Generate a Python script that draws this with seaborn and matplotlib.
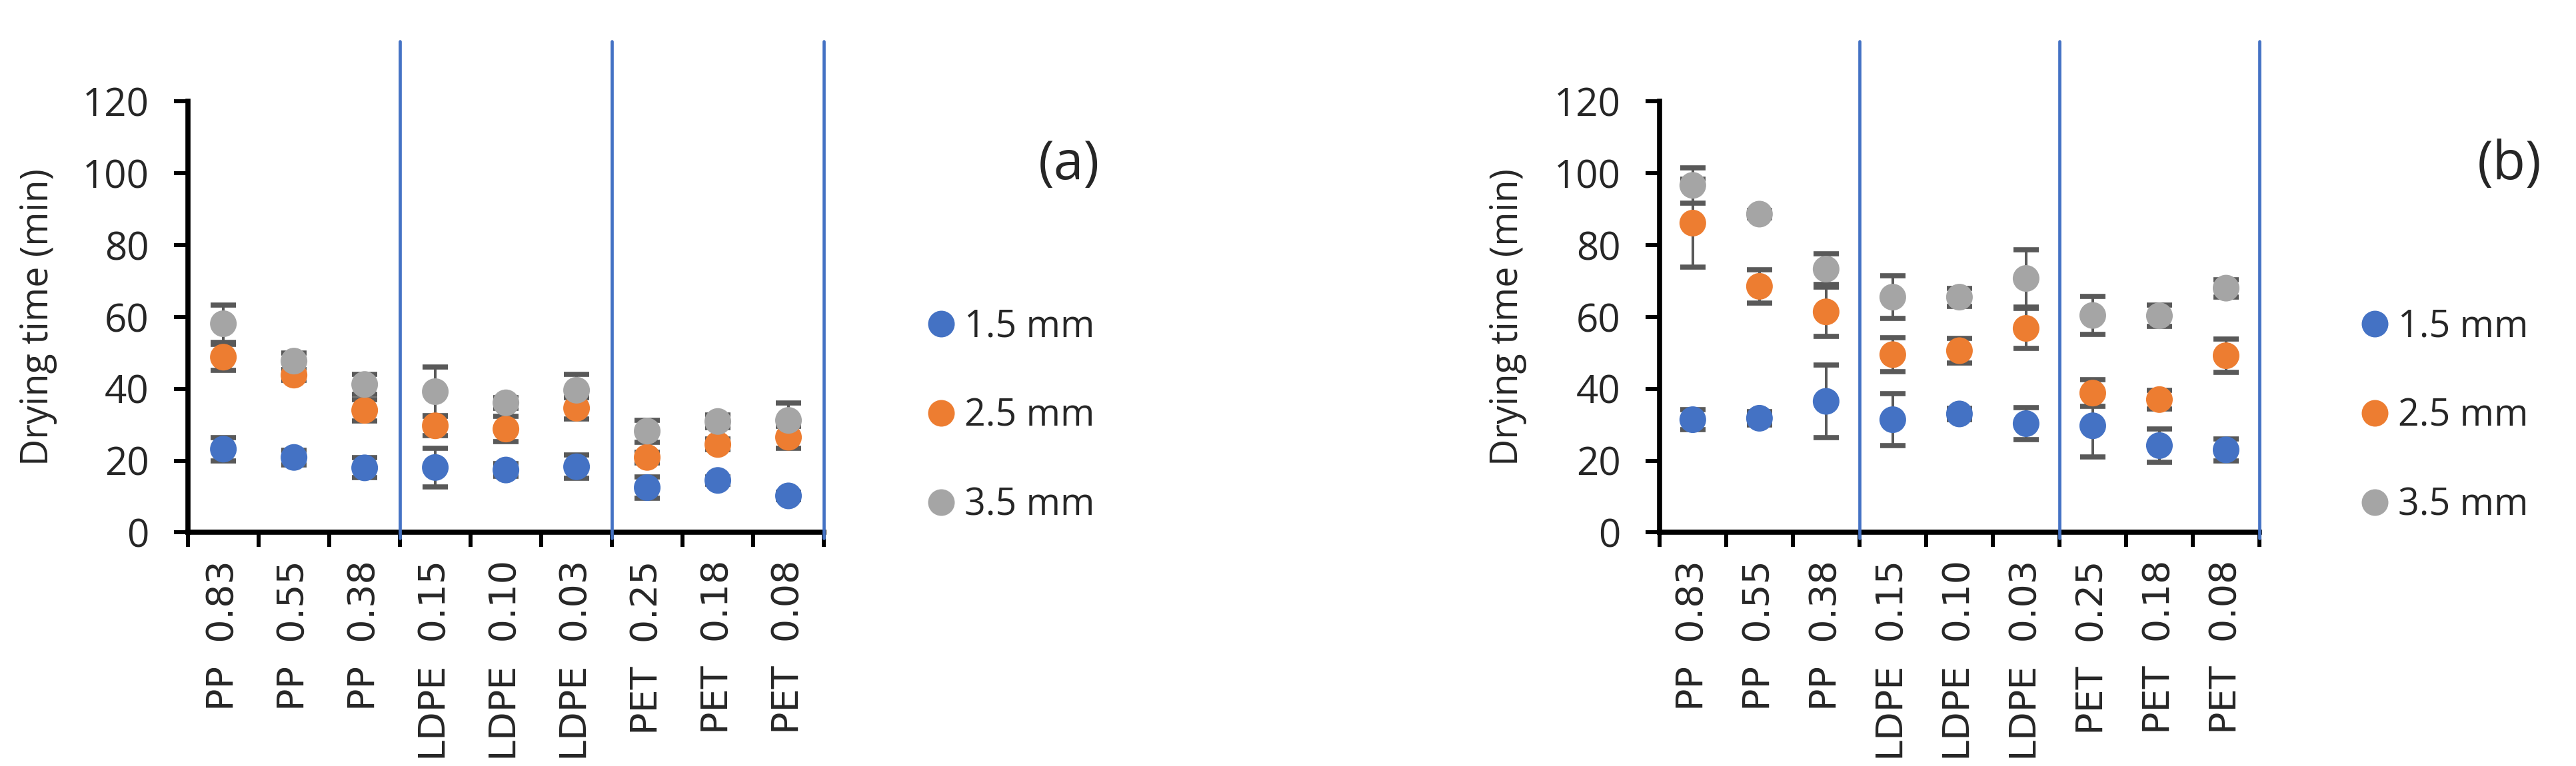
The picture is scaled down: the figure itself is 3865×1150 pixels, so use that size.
import matplotlib
matplotlib.use("Agg")
import matplotlib.pyplot as plt
from matplotlib.lines import Line2D
import numpy as np
import pandas as pd
import seaborn as sns

# categorias do eixo x (material e espessura do filme)
rotulos = ["PP  0.83", "PP  0.55", "PP  0.38",
           "LDPE  0.15", "LDPE  0.10", "LDPE  0.03",
           "PET  0.25", "PET  0.18", "PET  0.08"]
espessuras = ["1.5 mm", "2.5 mm", "3.5 mm"]
cores = ["#4472C4", "#ED7D31", "#A5A5A5"]
separadores = [3, 6, 9]

# painel (a)
a_15 = [23.2, 20.9, 18.0, 18.1, 17.4, 18.3, 12.5, 14.5, 10.2]
a_15_erro = [3.3, 2.0, 2.8, 5.4, 1.8, 3.2, 2.9, 1.0, 1.0]
a_25 = [48.8, 43.8, 34.0, 29.7, 28.8, 34.6, 20.9, 24.5, 26.5]
a_25_erro = [3.6, 1.5, 3.0, 2.8, 3.5, 3.0, 1.5, 1.5, 3.0]
a_35 = [58.1, 47.7, 41.2, 39.2, 36.1, 39.6, 28.2, 30.9, 31.2]
a_35_erro = [5.2, 2.3, 2.8, 6.9, 1.5, 4.4, 3.0, 1.8, 4.9]

# painel (b)
b_15 = [31.4, 31.8, 36.5, 31.4, 33.0, 30.3, 29.7, 24.2, 23.0]
b_15_erro = [2.8, 1.8, 10.1, 7.2, 1.5, 4.4, 8.6, 4.7, 3.0]
b_25 = [86.1, 68.5, 61.4, 49.5, 50.6, 56.8, 38.8, 37.0, 49.2]
b_25_erro = [12.2, 4.7, 6.9, 4.7, 3.4, 5.5, 3.7, 2.6, 4.6]
b_35 = [96.6, 88.6, 73.3, 65.5, 65.5, 70.7, 60.4, 60.3, 68.0]
b_35_erro = [4.9, 1.0, 4.2, 6.0, 2.5, 8.0, 5.3, 3.0, 2.4]

sns.set_style("ticks")
plt.rcParams["font.family"] = ["Open Sans", "DejaVu Sans"]


def montar_tabela(series, erros):
    linhas = []
    for espessura, valores, desvios in zip(espessuras, series, erros):
        for i, (v, e) in enumerate(zip(valores, desvios)):
            linhas.append({"posicao": i + 0.5, "tempo": v, "erro": e, "espessura": espessura})
    return pd.DataFrame(linhas)


def plotar_painel(ax, dados, letra, x_letra, x_legenda):
    for espessura in espessuras:
        parte = dados[dados["espessura"] == espessura]
        ax.errorbar(parte["posicao"], parte["tempo"], yerr=parte["erro"], fmt="none",
                    ecolor="#595959", elinewidth=2.9, capsize=13.5, capthick=5.5, zorder=2)
    sns.scatterplot(data=dados, x="posicao", y="tempo", hue="espessura",
                    palette=cores, s=830, linewidth=0, zorder=3, legend=False, ax=ax)

    for xs in separadores:
        ax.plot([xs, xs], [-1.5, 136.7], color="#4472C4", lw=3.4, clip_on=False, zorder=4)

    ax.set_xlim(0, 9)
    ax.set_ylim(0, 120)
    ax.set_yticks(np.arange(0, 121, 20))
    ax.set_xticks(np.arange(0, 10))
    ax.set_xticklabels([])
    ax.set_xticks(np.arange(9) + 0.5, labels=rotulos, minor=True)
    ax.tick_params(axis="x", which="major", length=16, width=4.3, color="black")
    ax.tick_params(axis="x", which="minor", length=0, pad=30, labelsize=40, labelrotation=90)
    ax.tick_params(axis="y", length=15, width=4.3, color="black", pad=27, labelsize=42)
    for lbl in ax.get_xticklabels(minor=True):
        lbl.set_fontfamily("DejaVu Sans")

    for lado in ["top", "right"]:
        ax.spines[lado].set_visible(False)
    for lado in ["left", "bottom"]:
        ax.spines[lado].set_linewidth(5.5)
        ax.spines[lado].set_color("black")

    ax.set_xlabel("")
    ax.set_ylabel("Drying time (min)", fontsize=40, va="center")
    ax.yaxis.set_label_coords(-0.235, 0.5)

    marcadores = [Line2D([], [], marker="o", linestyle="none", markersize=28.8,
                         markerfacecolor=c, markeredgewidth=0) for c in cores]
    ax.legend(marcadores, espessuras, loc="center left", bbox_to_anchor=(x_legenda, 0.4565),
              bbox_transform=ax.figure.transFigure, frameon=False, fontsize=40,
              borderpad=0, handlelength=0.7, handletextpad=0.28, labelspacing=1.38)

    ax.figure.text(x_letra, 0.7843, letra, ha="center", va="center", fontsize=58)


fig = plt.figure(figsize=(38.65, 11.5), dpi=100)
ax_a = fig.add_axes([0.0730, 0.3048, 0.2468, 0.5630])
ax_b = fig.add_axes([0.6442, 0.3048, 0.2329, 0.5630])

plotar_painel(ax_a, montar_tabela([a_15, a_25, a_35], [a_15_erro, a_25_erro, a_35_erro]),
              "(a)", 0.4150, 0.3530)
plotar_painel(ax_b, montar_tabela([b_15, b_25, b_35], [b_15_erro, b_25_erro, b_35_erro]),
              "(b)", 0.9741, 0.9096)
ax_b.yaxis.set_label_coords(-0.252, 0.5)

fig.savefig("out.png", dpi=100, facecolor="white")
